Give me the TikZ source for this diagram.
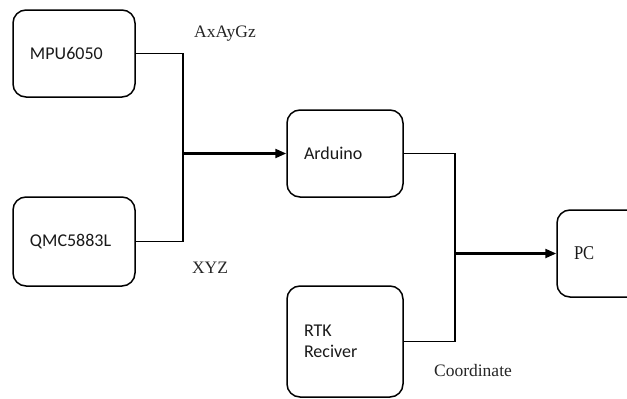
\documentclass[tikz,border=0pt]{standalone}
\usepackage{fontspec}
\setmainfont{Liberation Serif}
\setsansfont{Carlito}
\usetikzlibrary{arrows.meta}
\tikzset{
  blockbox/.style={draw=black, line width=1.5pt, rounded corners=13pt,
    inner xsep=17pt, inner ysep=0pt, align=left, anchor=center,
    font=\sffamily\fontsize{18}{21.5}\selectfont, text=black!90},
  wire/.style={draw=black, line width=1.5pt},
  mainarrow/.style={draw=black, line width=2.3pt, -{Triangle[length=11pt,width=9pt]}},
  siglabel/.style={font=\fontsize{17.5}{20}\selectfont, text=black!85, inner sep=0pt}
}
\begin{document}
\begin{tikzpicture}[x=1pt,y=-1pt]
\useasboundingbox (0,0) rectangle (627,399);
\clip (0,0) rectangle (627,399);
\node[blockbox, text width=88pt, minimum height=87pt] (mpu) at (74,53.5) {MPU6050};
\node[blockbox, text width=88pt, minimum height=89pt] (qmc) at (74,241.5) {QMC5883L};
\node[blockbox, text width=82pt, minimum height=87pt] (ard) at (345,153.5) {Arduino};
\node[blockbox, text width=82pt, minimum height=111pt] (rtk) at (345,341.5) {RTK\\Reciver};
\node[blockbox, text width=66pt, minimum height=87pt, font=\rmfamily\fontsize{19.5}{22}\selectfont] (pc) at (607,253.5) {\scalebox{0.85}[1]{PC}};
\coordinate (j1) at (183,153.5);
\coordinate (j2) at (455,253.5);
\draw[wire] (mpu.east) -| (j1) |- (qmc.east);
\draw[mainarrow] (j1) -- (ard.west);
\draw[wire] (ard.east) -| (j2) |- (rtk.east);
\draw[mainarrow] (j2) -- (pc.west);
\node[siglabel] (l1) at (225,34) {AxAyGz};
\node[siglabel] (l2) at (210,268) {XYZ};
\node[siglabel] (l3) at (473,371) {Coordinate};
\end{tikzpicture}
\end{document}
